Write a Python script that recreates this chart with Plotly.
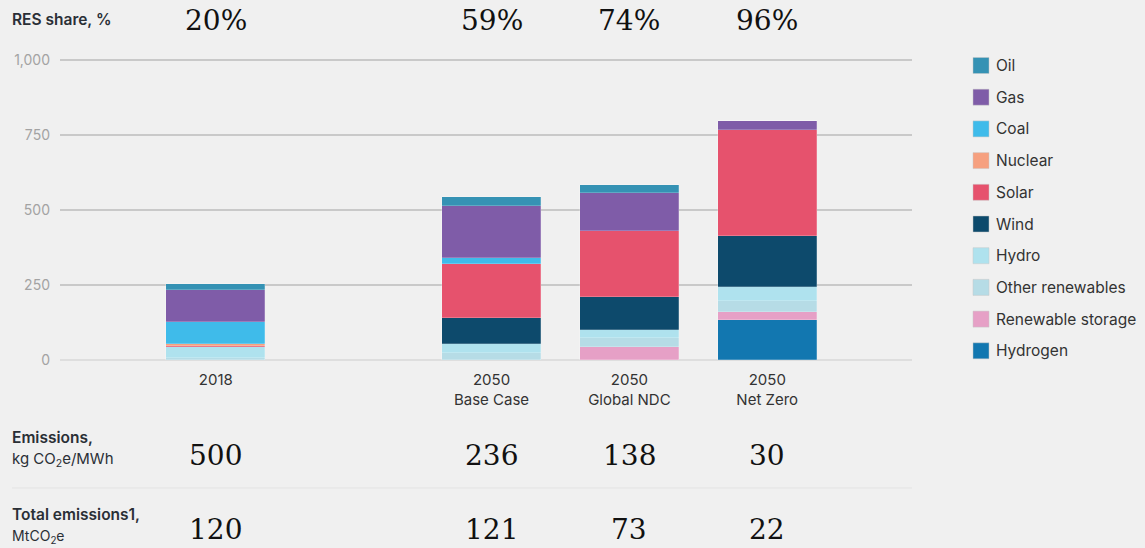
import plotly.graph_objects as go

# ---------------- data ----------------
categories = ["2018", "2050<br>Base Case", "2050<br>Global NDC", "2050<br>Net Zero"]
spacer = " "

series_names = ["Hydrogen", "Renewable storage", "Other renewables", "Hydro",
                "Wind", "Solar", "Nuclear", "Coal", "Gas", "Oil"]
hydrogen = [0, 0, 0, 134]
renewable_storage = [0, 0, 43, 25]
other_renewables = [8, 24, 30, 37]
hydro = [34, 28, 27, 48]
wind = [0, 88, 109, 170]
solar = [4, 180, 222, 353]
nuclear = [7, 0, 0, 0]
coal = [75, 19, 0, 0]
gas = [106, 173, 125, 31]
oil = [18, 33, 26, 0]

res_share = ["20%", "59%", "74%", "96%"]
emissions_intensity = ["500", "236", "138", "30"]
total_emissions = ["120", "121", "73", "22"]

y_ticks = [0, 250, 500, 750, 1000]
y_tick_labels = ["0", "250", "500", "750", "1,000"]

series_values = [hydrogen, renewable_storage, other_renewables, hydro,
                 wind, solar, nuclear, coal, gas, oil]
series_colors = ["#1277b0", "#e6a0c6", "#b6dce6", "#afe2ee",
                 "#0d4a6c", "#e6526d", "#f6a07f", "#3fbbea", "#7f5ca8", "#3592b4"]

# ---------------- layout helpers ----------------
W, H = 1145, 548
Y_MAX = 1010
PL, PR, PB = 60, 912, 360           # plot area in pixels
PT = PB - 300 * Y_MAX / 1000        # so that 1000 sits at y=60


def px2x(px):
    return (px - PL) / (PR - PL)


def py2y(py):
    return (PB - py) / (PB - PT)


SANS = "Inter, Roboto, Arial, sans-serif"
SERIF = "DejaVu Serif, Liberation Serif, serif"
DARK = "#2a2f36"

category_array = [categories[0], spacer] + categories[1:]

fig = go.Figure()
for name, vals, col in zip(series_names, series_values, series_colors):
    fig.add_trace(go.Bar(
        x=categories, y=vals, name=name,
        marker=dict(color=col, line=dict(color="rgba(255,255,255,0.35)", width=0.6)),
        width=0.72, showlegend=False,
    ))

annotations = []
shapes = []

# manual legend (Oil at top)
for i, (name, col) in enumerate(zip(series_names[::-1], series_colors[::-1])):
    cy = 65.5 + i * 31.7
    shapes.append(dict(type="rect", xref="paper", yref="paper",
                       x0=px2x(973), x1=px2x(989), y0=py2y(cy + 8), y1=py2y(cy - 8),
                       fillcolor=col, line=dict(color="rgba(200,200,200,0.6)", width=0.8)))
    annotations.append(dict(x=px2x(994), y=py2y(cy), xref="paper", yref="paper",
                            text=name, showarrow=False, xanchor="left", yanchor="middle",
                            font=dict(family=SANS, size=15.5, color="#333333")))


# row labels
def label(text, py, size=15.5, weight=400):
    annotations.append(dict(x=px2x(10), y=py2y(py), xref="paper", yref="paper",
                            text=text, showarrow=False, xanchor="left", yanchor="middle",
                            font=dict(family=SANS, size=size, color=DARK, weight=weight)))


label("RES share, %", 20, 15.5, 600)
label("Emissions,", 437, 15.5, 600)
label("kg CO<sub>2</sub>e/MWh", 459, 15)
label("Total emissions1,", 514, 15.5, 600)
label("MtCO<sub>2</sub>e", 536, 14)

# big serif numbers
for cat, r, e, t in zip(categories, res_share, emissions_intensity, total_emissions):
    xi = category_array.index(cat)
    for txt, py in ((r, 21), (e, 455), (t, 529)):
        annotations.append(dict(x=xi, y=py2y(py), xref="x", yref="paper",
                                text=txt, showarrow=False, xanchor="center", yanchor="middle",
                                font=dict(family=SERIF, size=28, color="#111111")))

# separator line between emission rows
shapes.append(dict(type="line", xref="paper", yref="paper",
                   x0=px2x(12), x1=px2x(912), y0=py2y(488), y1=py2y(488),
                   line=dict(color="#e3e3e3", width=1)))

fig.update_layout(
    width=W, height=H,
    margin=dict(l=PL, r=W - PR, t=PT, b=H - PB, pad=0),
    paper_bgcolor="#f0f0f0", plot_bgcolor="#f0f0f0",
    barmode="stack", bargap=0,
    showlegend=False,
    annotations=annotations, shapes=shapes,
    xaxis=dict(type="category", categoryorder="array",
               categoryarray=category_array,
               tickmode="array", tickvals=categories, ticktext=categories,
               range=[-1.13, 5.05], showgrid=False, zeroline=False, showline=False,
               ticks="", tickfont=dict(family=SANS, size=15, color="#333333"),
               ticklabelstandoff=9, fixedrange=True),
    yaxis=dict(range=[0, Y_MAX], tickvals=y_ticks, ticktext=y_tick_labels,
               showgrid=True, gridcolor="#c9c9c9", gridwidth=2,
               zeroline=True, zerolinecolor="#dedede", zerolinewidth=2,
               showline=False, ticks="",
               tickfont=dict(family=SANS, size=14, color="#a3a3a3"),
               ticklabelstandoff=9, fixedrange=True),
)

fig.write_html("out.html", config={"displayModeBar": False},
               post_script="document.body.style.margin='0px';document.body.style.overflow='hidden';")
